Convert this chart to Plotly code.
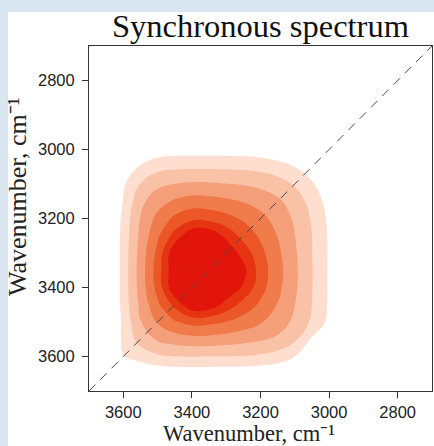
import plotly.graph_objects as go

# Wavenumber grid (cm^-1) of the estimated synchronous intensities (contour level units)
grid_x = [3000, 3050, 3100, 3150, 3200, 3250, 3300, 3350, 3400, 3450, 3500, 3550, 3600, 3650]
grid_y = [3000, 3050, 3100, 3150, 3200, 3250, 3300, 3350, 3400, 3450, 3500, 3550, 3600, 3650]

# rows follow grid_y, columns follow grid_x
intensity = [
    [-1.55, -0.98, -0.54, -0.26, -0.09, -0.01, 0.01, 0.02, 0.02, 0.01, -0.10, -0.47, -1.27, -2.50],
    [-0.81, -0.08, 0.50, 0.91, 1.16, 1.28, 1.32, 1.33, 1.33, 1.31, 1.15, 0.61, -0.47, -1.94],
    [-0.26, 0.62, 1.39, 1.96, 2.26, 2.41, 2.52, 2.61, 2.63, 2.50, 2.26, 1.53, 0.35, -1.55],
    [0.10, 1.11, 2.06, 2.67, 3.10, 3.44, 3.70, 3.89, 3.93, 3.64, 3.10, 2.24, 0.56, -1.31],
    [0.29, 1.39, 2.35, 3.12, 3.80, 4.36, 4.82, 5.15, 5.24, 4.71, 3.79, 2.53, 0.79, -1.18],
    [0.37, 1.50, 2.51, 3.47, 4.35, 5.14, 6.24, 7.30, 7.30, 5.88, 4.34, 2.73, 0.88, -1.13],
    [0.39, 1.52, 2.64, 3.72, 4.78, 6.12, 7.30, 7.30, 7.30, 7.30, 4.77, 2.88, 0.91, -1.12],
    [0.39, 1.54, 2.70, 3.86, 5.01, 6.84, 7.30, 7.30, 7.30, 7.30, 5.00, 2.95, 0.91, -1.12],
    [0.39, 1.53, 2.66, 3.77, 4.86, 6.36, 7.30, 7.30, 7.30, 7.30, 4.84, 2.91, 0.91, -1.12],
    [0.36, 1.50, 2.51, 3.45, 4.33, 5.10, 6.14, 7.18, 7.30, 5.78, 4.31, 2.72, 0.88, -1.13],
    [0.24, 1.32, 2.29, 2.99, 3.59, 4.08, 4.47, 4.75, 4.82, 4.38, 3.58, 2.45, 0.73, -1.21],
    [-0.09, 0.35, 1.69, 2.33, 2.62, 2.84, 3.01, 3.14, 3.17, 2.98, 2.62, 1.85, 0.80, -1.43],
    [-0.72, 0.03, 0.50, 1.07, 1.33, 1.46, 1.49, 1.51, 1.52, 1.49, 1.33, 1.00, 0.45, -1.87],
    [-1.66, -1.10, -0.69, -0.41, -0.26, -0.18, -0.16, -0.15, -0.15, -0.16, -0.26, -0.62, -1.39, -2.58],
]

diagonal = [3700, 2700]
tick_values = [3600, 3400, 3200, 3000, 2800]
tick_labels = ["3600", "3400", "3200", "3000", "2800"]

band_colors = ["#ffffff", "#fddecf", "#f9c1a6", "#f49f7a", "#f07c4c", "#eb5726", "#e63413", "#e1150a"]
colorscale = [[i / (len(band_colors) - 1), c] for i, c in enumerate(band_colors)]

fig = go.Figure()
fig.add_trace(go.Contour(
    x=grid_x, y=grid_y, z=intensity,
    autocontour=False,
    contours=dict(start=0.5, end=6.5, size=1, coloring="fill"),
    colorscale=colorscale,
    showscale=False,
    line=dict(width=0, smoothing=1.3),
    hoverinfo="skip",
))
fig.add_trace(go.Scatter(
    x=diagonal, y=diagonal, mode="lines",
    line=dict(color="#4a4a4a", width=1, dash="9px,7px"),
    showlegend=False, hoverinfo="skip",
))

serif = "Liberation Serif, Times New Roman, serif"
sans = "Liberation Sans, Arial, sans-serif"

axis_common = dict(
    range=[3700, 2700],
    tickvals=tick_values, ticktext=tick_labels,
    ticks="outside", ticklen=6, tickcolor="#333333", tickwidth=1,
    showline=True, mirror=True, linecolor="#333333", linewidth=1,
    showgrid=False, zeroline=False,
    tickfont=dict(family=sans, size=16.5, color="#222222"),
)

fig.update_layout(
    width=434, height=446,
    margin=dict(l=89, r=2, t=46, b=55),
    paper_bgcolor="#d9e6f0",
    plot_bgcolor="white",
    showlegend=False,
    title=dict(text="Synchronous spectrum", font=dict(family=serif, size=32.5, color="#111111"),
               x=0.5, xref="paper", xanchor="center", y=1 - 26 / 446, yref="container", yanchor="middle"),
    xaxis=dict(**axis_common, ticklabelstandoff=0),
    yaxis=dict(**axis_common, ticklabelstandoff=4),
    annotations=[
        dict(text="Wavenumber, cm⁻¹", xref="paper", yref="paper",
             x=(249 - 89) / 343, y=(391 - 433) / 345, xanchor="center", yanchor="middle",
             showarrow=False, borderpad=0, font=dict(family=serif, size=22.5, color="#222222")),
        dict(text="Wavenumber, cm⁻¹", xref="paper", yref="paper", textangle=-90,
             x=(17 - 89) / 343, y=(391 - 197) / 345, xanchor="center", yanchor="middle",
             showarrow=False, borderpad=0, font=dict(family=serif, size=26, color="#222222")),
    ],
    shapes=[dict(type="rect", xref="paper", yref="paper", x0=-0.2362, x1=1.03, y0=-0.2, y1=1.0986,
                 fillcolor="white", line=dict(width=0), layer="below")],
)

fig.write_html("out.html")
